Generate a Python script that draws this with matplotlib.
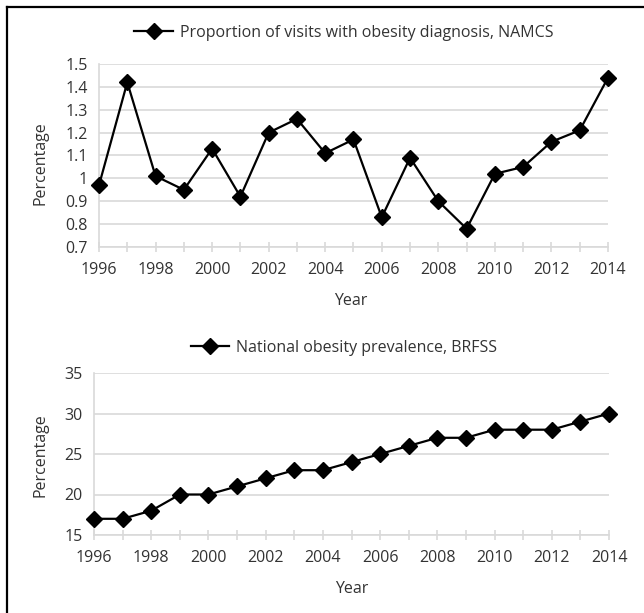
import matplotlib.pyplot as plt
from matplotlib.lines import Line2D

years = list(range(1996, 2015))
namcs_pct = [0.97, 1.42, 1.01, 0.95, 1.13, 0.92, 1.20, 1.26, 1.11, 1.17,
             0.83, 1.09, 0.90, 0.78, 1.02, 1.05, 1.16, 1.21, 1.44]
brfss_pct = [17, 17, 18, 20, 20, 21, 22, 23, 23, 24,
             25, 26, 27, 27, 28, 28, 28, 29, 30]
namcs_label = "Proportion of visits with obesity diagnosis, NAMCS"
brfss_label = "National obesity prevalence, BRFSS"
namcs_yticks = [0.7, 0.8, 0.9, 1.0, 1.1, 1.2, 1.3, 1.4, 1.5]
namcs_yticklabels = ["0.7", "0.8", "0.9", "1", "1.1", "1.2", "1.3", "1.4", "1.5"]
brfss_yticks = [15, 20, 25, 30, 35]

plt.rcParams["font.family"] = ["Open Sans", "DejaVu Sans"]
TXT = "#333333"
GRID = "#d9d9d9"

W, H = 644, 613
fig = plt.figure(figsize=(W / 100, H / 100), dpi=100)


def px_axes(left, right, top, bottom):
    return fig.add_axes([left / W, 1 - bottom / H, (right - left) / W, (bottom - top) / H])


def style(ax, yticks, ylim, yticklabels=None):
    ax.set_xlim(years[0], years[-1])
    ax.set_ylim(*ylim)
    ax.set_yticks(yticks)
    if yticklabels:
        ax.set_yticklabels(yticklabels)
    ax.set_xticks(years)
    ax.set_xticklabels([str(y) if y % 2 == 0 else "" for y in years])
    for s in ["top", "right"]:
        ax.spines[s].set_visible(False)
    for s in ["left", "bottom"]:
        ax.spines[s].set_color(GRID)
        ax.spines[s].set_linewidth(1.2)
    ax.grid(axis="y", color=GRID, linewidth=1.2)
    ax.set_axisbelow(True)
    ax.tick_params(axis="y", length=0, pad=8, labelsize=11.5, labelcolor=TXT)
    ax.tick_params(axis="x", direction="inout", length=7, width=1.2, color=GRID,
                   pad=7, labelsize=11.5, labelcolor=TXT)
    ax.set_ylabel("Percentage", fontsize=11.5, color=TXT)
    ax.set_xlabel("Year", fontsize=11.5, color=TXT)


def draw(ax, ys, label, legend_y):
    line, = ax.plot(years, ys, color="black", linewidth=1.6, marker="D",
                    markersize=8, clip_on=False, label=label, zorder=3)
    ax.legend(handles=[line], loc="center", bbox_to_anchor=(344 / W, 1 - legend_y / H),
              bbox_transform=fig.transFigure, frameon=False, fontsize=11.5,
              labelcolor=TXT, handlelength=2.4, handletextpad=0.45)


ax1 = px_axes(99, 608, 64, 247)
draw(ax1, namcs_pct, namcs_label, 33)
style(ax1, namcs_yticks, (0.7, 1.5), namcs_yticklabels)
ax1.yaxis.set_label_coords(-0.1, 0.46)
ax1.xaxis.set_label_coords(0.495, -0.251)

ax2 = px_axes(94, 609, 373, 535)
draw(ax2, brfss_pct, brfss_label, 348)
style(ax2, brfss_yticks, (15, 35))
ax2.yaxis.set_label_coords(-0.089, 0.494)
ax2.xaxis.set_label_coords(0.5, -0.284)

# outer frame (left and top edges only)
fx, fy = 7 / W, 1 - 6.5 / H
fig.add_artist(Line2D([fx, fx], [0, fy], color="black", linewidth=1.6, transform=fig.transFigure))
fig.add_artist(Line2D([fx, 1], [fy, fy], color="black", linewidth=1.6, transform=fig.transFigure))

fig.savefig("out.png", dpi=100, facecolor="white")
